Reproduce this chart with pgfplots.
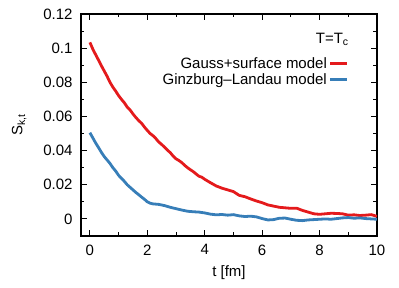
\documentclass[border=0pt]{standalone}
\usepackage{fontspec}
\setmainfont{Liberation Sans}
\usepackage{pgfplots}
\pgfplotsset{compat=1.18}
\definecolor{gred}{RGB}{228,26,28}
\definecolor{gblue}{RGB}{55,126,184}
\newcommand{\bigf}{\fontsize{15}{17}\selectfont}
\begin{document}
\begin{tikzpicture}[font=\bigf]
\useasboundingbox (-81pt,-52pt) rectangle (318pt,236pt);
\begin{axis}[
    at={(0,0)}, anchor=south west,
    scale only axis,
    width=296pt, height=222pt,
    xmin=-0.31, xmax=10,
    ymin=-0.01, ymax=0.12,
    xtick={0,2,...,10},
    ytick={0,0.02,...,0.12},
    minor x tick num=1,
    minor y tick num=1,
    tick align=inside,
    major tick length=6pt,
    minor tick length=3.5pt,
    tick style={line width=1pt,black},
    axis line style={line width=1.2pt},
    scaled y ticks=false,
    xticklabel={\bigf\pgfmathprintnumber[assume math mode=true]{\tick}},
    yticklabel={\bigf\pgfmathprintnumber[assume math mode=true,fixed,precision=2]{\tick}},
    xticklabel style={yshift=-5pt},
    yticklabel style={xshift=-5pt},
    label style={font=\bigf},
    xlabel={t [fm]},
    ylabel={S\textsubscript{k,t}},
    xlabel style={yshift=-4pt},
    ylabel style={yshift=10pt},
    legend style={draw=none, fill=none, at={(rel axis cs:0.905,0.815)}, anchor=north east,
        row sep=0pt, inner sep=0pt, font=\bigf},
    legend plot pos=right,
    legend cell align=right,
    legend image code/.code={\draw[#1] (0pt,0pt) -- (17pt,0pt);},
]
\addplot[gred, line width=2.8pt] coordinates {
(0,0.1034) (0.1,0.0995) (0.2,0.0962) (0.3,0.0930) (0.4,0.0897) (0.5,0.0866)
(0.6,0.0835) (0.7,0.0800) (0.8,0.0772) (0.9,0.0748) (1.0,0.0722) (1.1,0.0700)
(1.2,0.0680) (1.3,0.0655) (1.4,0.0638) (1.5,0.0615) (1.6,0.0594) (1.7,0.0576)
(1.8,0.0560) (1.9,0.0538) (2.0,0.0518) (2.1,0.0500) (2.2,0.0487) (2.3,0.0470)
(2.4,0.0450) (2.5,0.0436) (2.6,0.0420) (2.7,0.0403) (2.8,0.0388) (2.9,0.0368)
(3.0,0.0352) (3.1,0.0342) (3.2,0.0330) (3.3,0.0314) (3.4,0.0300) (3.5,0.0288)
(3.6,0.0277) (3.7,0.0263) (3.8,0.0250) (3.9,0.0244) (4.0,0.0232) (4.2,0.0212)
(4.4,0.0193) (4.6,0.0180) (4.8,0.0170) (5.0,0.0160) (5.2,0.0138) (5.4,0.0130)
(5.6,0.0117) (5.8,0.0105) (6.0,0.0095) (6.2,0.0082) (6.4,0.0075) (6.6,0.0068)
(6.8,0.0065) (7.0,0.0062) (7.2,0.0063) (7.4,0.0050) (7.6,0.0040) (7.8,0.0030)
(8.0,0.0027) (8.2,0.0030) (8.4,0.0033) (8.6,0.0032) (8.8,0.0030) (9.0,0.0022)
(9.2,0.0024) (9.4,0.0020) (9.6,0.0022) (9.8,0.0025) (10.0,0.0015)
};
\addlegendentry{Gauss+surface model}
\addplot[gblue, line width=2.8pt] coordinates {
(0,0.0505) (0.1,0.0475) (0.2,0.0445) (0.3,0.0418) (0.4,0.0390) (0.5,0.0365)
(0.6,0.0345) (0.7,0.0325) (0.8,0.0300) (0.9,0.0280) (1.0,0.0255) (1.1,0.0238)
(1.2,0.0220) (1.3,0.0200) (1.4,0.0185) (1.5,0.0170) (1.6,0.0155) (1.7,0.0142)
(1.8,0.0128) (1.9,0.0115) (2.0,0.0100) (2.1,0.0092) (2.2,0.0088) (2.4,0.0085)
(2.6,0.0078) (2.8,0.0068) (3.0,0.0060) (3.2,0.0052) (3.4,0.0045) (3.6,0.0042)
(3.8,0.0040) (4.0,0.0035) (4.2,0.0028) (4.4,0.0024) (4.6,0.0026) (4.8,0.0022)
(5.0,0.0025) (5.2,0.0018) (5.4,0.0014) (5.6,0.0016) (5.8,0.0012) (6.0,0.0002)
(6.2,-0.0006) (6.4,-0.0004) (6.6,0.0004) (6.8,0.0005) (7.0,-0.0002) (7.2,-0.0008)
(7.4,-0.0010) (7.6,-0.0006) (7.8,-0.0004) (8.0,-0.0002) (8.2,0.0000) (8.4,-0.0002)
(8.6,0.0002) (8.8,0.0006) (9.0,0.0008) (9.2,0.0004) (9.4,0.0006) (9.6,0.0002)
(9.8,0.0000) (10,-0.0002)
};
\addlegendentry{Ginzburg--Landau model}
\node[anchor=east, inner sep=0pt] at (rel axis cs:0.905,0.885) {T=T\textsubscript{c}};
\end{axis}
\end{tikzpicture}
\end{document}
